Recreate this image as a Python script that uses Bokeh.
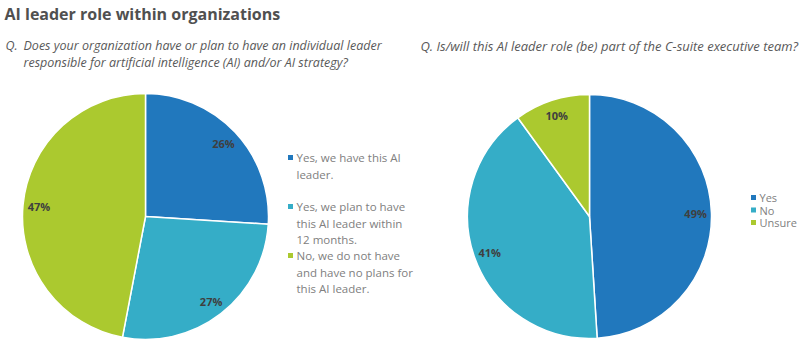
import numpy as np
from bokeh.plotting import figure
from bokeh.models import Range1d, ColumnDataSource
from bokeh.core.properties import value
from bokeh.embed import file_html
from bokeh.resources import INLINE

# ---------------- data ----------------
title = "AI leader role within organizations"
q1_prefix = "Q."
q1_lines = ["Does your organization have or plan to have an individual  leader",
            "responsible for artificial intelligence (AI) and/or AI strategy?"]
q2_text = "Q. Is/will this AI leader role (be) part of the C-suite executive team?"

q1_labels = [["Yes, we have this AI", "leader."],
             ["Yes, we plan to have", "this AI leader within", "12 months."],
             ["No, we do not have", "and have no plans for", "this AI leader."]]
q1_values = [26, 27, 47]

q2_labels = ["Yes", "No", "Unsure"]
q2_values = [49, 41, 10]

colors = ["#2178BD", "#35ADC7", "#ABC92F"]

# ---------------- figure ----------------
W, H = 800, 342
FONT = value("Open Sans")

p = figure(width=W, height=H, x_range=Range1d(0, W), y_range=Range1d(0, H),
           output_backend="svg", toolbar_location=None, min_border=0,
           outline_line_color=None, background_fill_color="white",
           border_fill_color="white")
p.axis.visible = False
p.grid.visible = False


def Y(ypx):
    return H - ypx


def draw_pie(cx, cy, r, values):
    vals = np.array(values, dtype=float)
    fr = vals / vals.sum()
    cum = np.concatenate([[0.0], np.cumsum(fr)])
    start = np.pi / 2 - cum[1:] * 2 * np.pi
    end = np.pi / 2 - cum[:-1] * 2 * np.pi
    src = ColumnDataSource(dict(start=start, end=end, color=colors[:len(vals)]))
    p.wedge(x=cx, y=Y(cy), radius=r, start_angle="start", end_angle="end",
            fill_color="color", line_color="white", line_width=1.5, source=src)
    mid = (start + end) / 2
    lr = 0.87 * r
    lsrc = ColumnDataSource(dict(x=cx + lr * np.cos(mid), y=Y(cy) + lr * np.sin(mid),
                                 t=[f"{int(v)}%" for v in values]))
    p.text(x="x", y="y", text="t", source=lsrc, text_font=FONT,
           text_font_size="11px", text_font_style="bold", text_color="#3f3f3f",
           text_align="center", text_baseline="middle")


draw_pie(145, 216, 123, q1_values)
draw_pie(589, 216, 122, q2_values)

# title
p.text(x=[4], y=[Y(13)], text=[title], text_font=FONT, text_font_size="16px",
       text_font_style="bold", text_color="#505050", text_baseline="middle")

# question texts
p.text(x=[5], y=[Y(45)], text=[q1_prefix], text_font=FONT, text_font_size="12.5px",
       text_font_style="italic", text_color="#595959", text_baseline="middle")
p.text(x=[23, 23], y=[Y(45), Y(62)], text=q1_lines, text_font=FONT,
       text_font_size="12.5px", text_font_style="italic", text_color="#595959",
       text_baseline="middle")
p.text(x=[420], y=[Y(45)], text=[q2_text], text_font=FONT, text_font_size="13px",
       text_font_style="italic", text_color="#595959", text_baseline="middle")

# left legend
group_tops = [157, 206, 255]
line_h = 16.5
for i, lines in enumerate(q1_labels):
    y0 = group_tops[i]
    p.rect(x=[290], y=[Y(y0)], width=5, height=5, fill_color=colors[i], line_color=None)
    p.text(x=[296] * len(lines), y=[Y(y0 + k * line_h) for k in range(len(lines))],
           text=lines, text_font=FONT, text_font_size="11.5px", text_color="#808080",
           text_baseline="middle")

# right legend
for i, lab in enumerate(q2_labels):
    yy = 197 + i * 12.5
    p.rect(x=[753], y=[Y(yy)], width=5, height=5, fill_color=colors[i], line_color=None)
    p.text(x=[759], y=[Y(yy)], text=[lab], text_font=FONT, text_font_size="11px",
           text_color="#808080", text_baseline="middle")

open("out.html", "w").write(file_html(p, INLINE))
